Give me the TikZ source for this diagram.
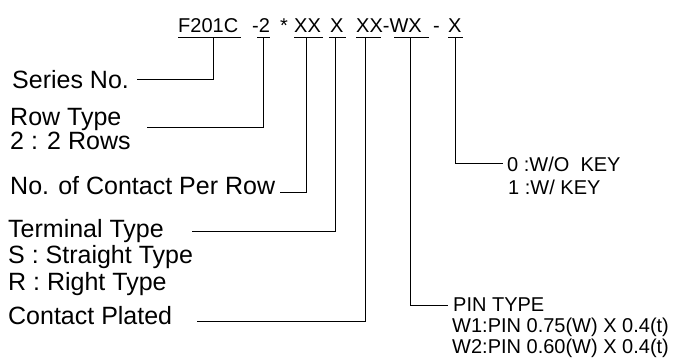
\documentclass[tikz,border=0pt]{standalone}
\usepackage{fontspec}
\setmainfont{Liberation Sans}
\begin{document}
\begin{tikzpicture}[x=1pt,y=-1pt,
  lbl/.style={anchor=base west,inner sep=0pt,font=\fontsize{25}{25}\selectfont},
  rlbl/.style={anchor=base west,inner sep=0pt,font=\fontsize{20}{20}\selectfont},
  code/.style={anchor=base west,inner sep=0pt,font=\fontsize{20}{20}\selectfont},
  ln/.style={line width=1pt,line cap=rect}]
\useasboundingbox (0,0) rectangle (675,364);
% top code
\node[code] (c1) at (178,32) {F201C};
\node[code] (c2) at (252,32) {-2};
\node[code] (c3) at (280,32) {*};
\node[code] (c4) at (294,32) {XX};
\node[code] (c5) at (330,32) {X};
\node[code] (c6) at (356,32) {XX-WX};
\node[code] (c7) at (433,32) {-};
\node[code] (c8) at (448,32) {X};
% underlines
\coordinate (a1) at (178,37); \coordinate (b1) at (240,37); \coordinate (u1) at (213,37);
\coordinate (a2) at (257,37); \coordinate (b2) at (269,37); \coordinate (u2) at (263,37);
\coordinate (a3) at (294,37); \coordinate (b3) at (322,37); \coordinate (u3) at (306,37);
\coordinate (a4) at (329,37); \coordinate (b4) at (345,37); \coordinate (u4) at (335,37);
\coordinate (a5) at (356,37); \coordinate (b5) at (380,37); \coordinate (u5) at (365,37);
\coordinate (a6) at (394,37); \coordinate (b6) at (428,37); \coordinate (u6) at (410,37);
\coordinate (a7) at (448,37); \coordinate (b7) at (462,37); \coordinate (u7) at (455,37);
\foreach \i in {1,...,7} {\draw[ln] (a\i) -- (b\i);}
% left labels
\node[lbl] (series) at (12,88) {Series No.};
\node[lbl] (row) at (10,125) {Row Type};
\node[lbl] (row2) at (10,149) {2 : 2 Rows};
\node[lbl] (noc) at (10,194) {No. of Contact Per Row};
\node[lbl] (term) at (8,237) {Terminal Type};
\node[lbl] (term2) at (8,263) {S : Straight Type};
\node[lbl] (term3) at (8,290) {R : Right Type};
\node[lbl] (plated) at (8,324) {Contact Plated};
% right labels
\node[rlbl] (key0) at (507,171) {0 :W/O\ \ KEY};
\node[rlbl] (key1) at (508,194) {1 :W/ KEY};
\node[rlbl] (pin) at (453,311) {PIN TYPE};
\node[rlbl] (pin1) at (452,332) {W1:PIN 0.75(W) X 0.4(t)};
\node[rlbl] (pin2) at (452,353) {W2:PIN 0.60(W) X 0.4(t)};
% connector ends
\coordinate (e1) at (137,79);
\coordinate (e2) at (147,127);
\coordinate (e3) at (280,192);
\coordinate (e4) at (192,231);
\coordinate (e5) at (197,321);
\coordinate (e6) at (447,305);
\coordinate (e7) at (502,163);
\foreach \i in {1,...,7} {\draw[ln] (u\i) |- (e\i);}
\end{tikzpicture}
\end{document}
